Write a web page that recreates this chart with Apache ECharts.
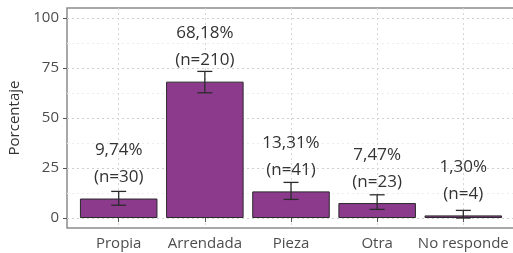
<!DOCTYPE html>
<html>
<head>
<meta charset="utf-8">
<script src="https://cdn.jsdelivr.net/npm/echarts@6/dist/echarts.min.js"></script>
<style>html,body{margin:0;padding:0;background:#fff;}#c{width:513px;height:253px;}</style>
</head>
<body>
<div id="c"></div>
<script>
const categories = ['Propia', 'Arrendada', 'Pieza', 'Otra', 'No responde'];
const percents = [9.74, 68.18, 13.31, 7.47, 1.30];
const counts = [30, 210, 41, 23, 4];
const errLow = [6.4, 62.6, 9.3, 4.3, 0.0];
const errHigh = [13.3, 73.3, 17.8, 11.6, 3.8];
const yTicks = [0, 25, 50, 75, 100];
const yMinorTicks = [12.5, 37.5, 62.5, 87.5];
const xPositions = [1, 2, 3, 4, 5];

const fmt = v => v.toFixed(2).replace('.', ',');
const font = '"Open Sans", sans-serif';

const chart = echarts.init(document.getElementById('c'));
chart.setOption({
  animation: false,
  backgroundColor: '#fff',
  grid: { left: 67, right: -2, top: 8, bottom: 25, containLabel: false, outerBoundsMode: 'none',
    show: true, borderColor: '#8c8c8c', borderWidth: 1.5, backgroundColor: 'transparent' },
  xAxis: {
    type: 'value', min: 0.4, max: 5.6,
    axisLine: { show: false },
    axisTick: { show: true, length: 4, customValues: xPositions, lineStyle: { color: '#555' } },
    axisLabel: { customValues: xPositions, margin: 8, color: '#4d4d4d', fontSize: 15, fontFamily: font,
      formatter: v => categories[Math.round(v) - 1] || '' },
    splitLine: { show: true, lineStyle: { color: '#d6d6d6', type: [2, 3], width: 1 } }
  },
  yAxis: [{
    type: 'value', min: -5, max: 105,
    name: 'Porcentaje', nameLocation: 'middle', nameGap: 41,
    nameTextStyle: { color: '#333', fontSize: 15, fontFamily: font },
    axisLine: { show: false },
    axisTick: { show: true, length: 4, customValues: yTicks, lineStyle: { color: '#555' } },
    axisLabel: { customValues: yTicks, margin: 8, color: '#4d4d4d', fontSize: 15, fontFamily: font },
    splitLine: { show: true, lineStyle: { color: '#cfcfcf', type: [2, 3], width: 1 } }
  }, {
    type: 'value', min: -5, max: 105, position: 'left',
    axisLine: { show: false },
    axisTick: { show: false, customValues: yMinorTicks },
    axisLabel: { show: false, customValues: yMinorTicks },
    splitLine: { show: true, lineStyle: { color: '#ececec', type: [2, 3], width: 1 } }
  }],
  series: [{
    type: 'bar',
    barWidth: '90%',
    data: percents.map((v, i) => [xPositions[i], v]),
    itemStyle: { color: '#8B3A8C', borderColor: '#2a2a2a', borderWidth: 1 }
  }, {
    type: 'custom',
    data: percents.map((v, i) => [xPositions[i], errLow[i], errHigh[i], v, counts[i]]),
    renderItem: function (params, api) {
      const x = api.value(0);
      const lo = api.coord([x, api.value(1)]);
      const hi = api.coord([x, api.value(2)]);
      const lab = api.coord([x, api.value(3) + 10.5]);
      const cw = 7.5;
      const st = { stroke: '#2b2b2b', lineWidth: 1.3 };
      return {
        type: 'group',
        children: [
          { type: 'line', shape: { x1: hi[0], y1: lo[1], x2: hi[0], y2: hi[1] }, style: st },
          { type: 'line', shape: { x1: hi[0] - cw, y1: hi[1], x2: hi[0] + cw, y2: hi[1] }, style: st },
          { type: 'line', shape: { x1: lo[0] - cw, y1: lo[1], x2: lo[0] + cw, y2: lo[1] }, style: st },
          { type: 'text', x: lab[0], y: lab[1] + 13.5,
            style: { text: fmt(api.value(3)) + '%\n(n=' + api.value(4) + ')', fill: '#333', fontSize: 17,
              fontFamily: font, lineHeight: 27, align: 'center', verticalAlign: 'bottom' } }
        ]
      };
    },
    z: 5
  }]
});
</script>
</body>
</html>
